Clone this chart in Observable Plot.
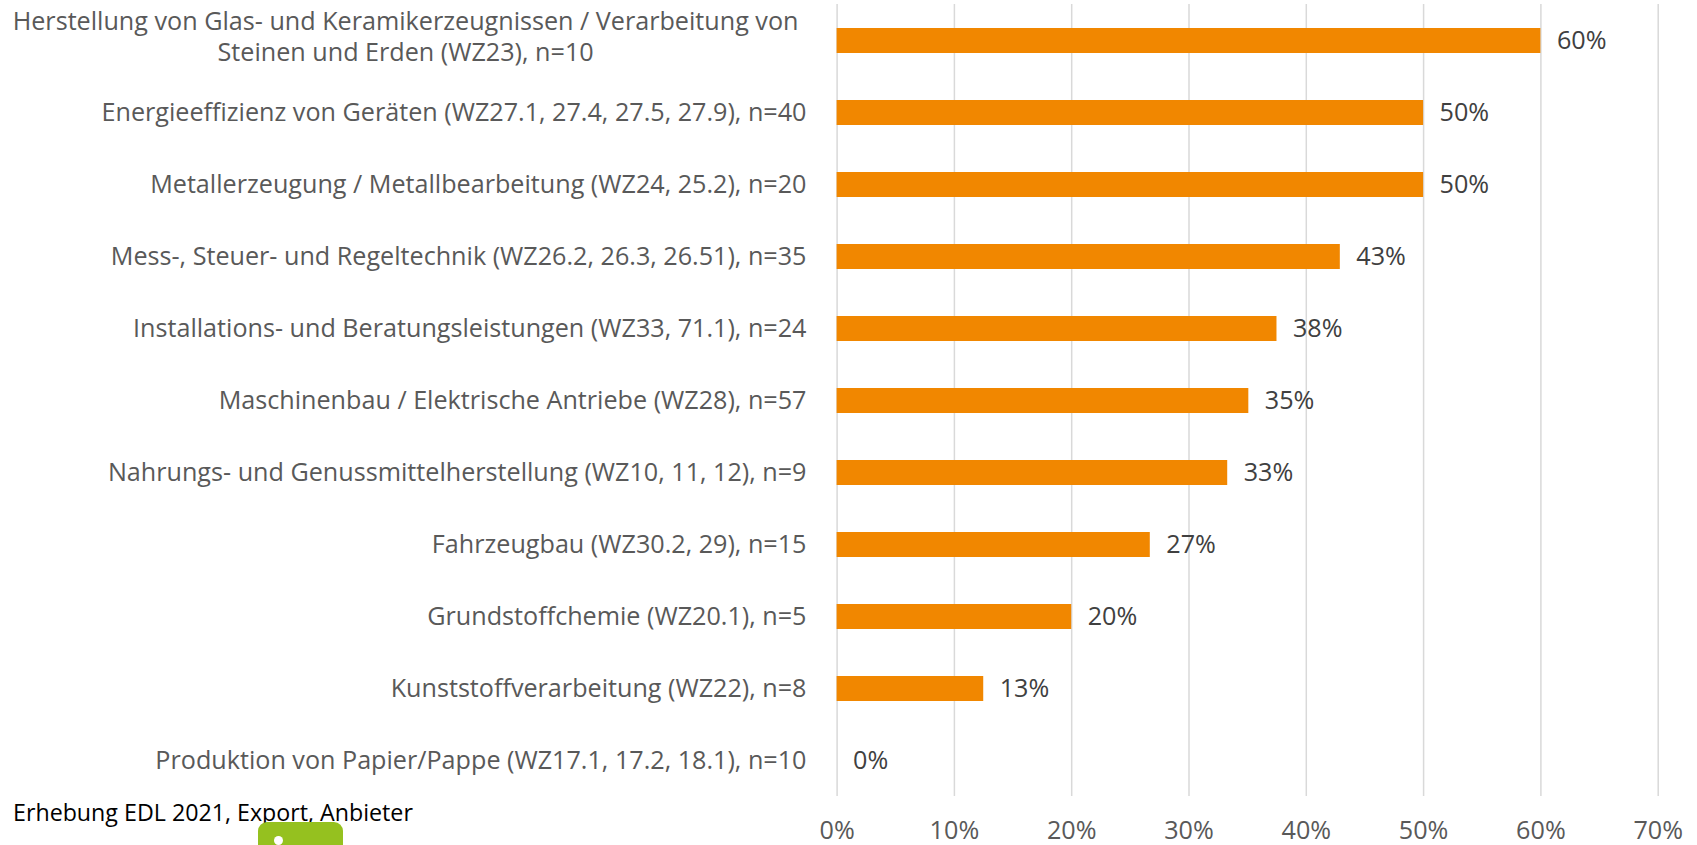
<!DOCTYPE html>
<html>
<head>
<meta charset="utf-8">
<script src="https://cdn.jsdelivr.net/npm/d3@7"></script>
<script src="https://cdn.jsdelivr.net/npm/@observablehq/plot@0.6"></script>
<style>
  html, body { margin: 0; padding: 0; background: #fff; }
  #wrap { position: relative; width: 1697px; height: 845px; overflow: hidden; }
  #wrap svg { position: absolute; left: 0; top: 0; }
  #caption { position: absolute; left: 13px; white-space: nowrap; color: #000; line-height: 1; }
  #logo { position: absolute; left: 258px; top: 821.5px; width: 85px; height: 40px; background: #95c11f; border-radius: 9px; }
  #logo::after { content: ""; position: absolute; left: 15.5px; top: 14px; width: 9px; height: 9px; border-radius: 50%; background: #fff; }
</style>
</head>
<body>
<div id="wrap"></div>
<script>
// ---- data ----
const categories = [
  "Herstellung von Glas- und Keramikerzeugnissen / Verarbeitung von\nSteinen und Erden (WZ23), n=10",
  "Energieeffizienz von Geräten (WZ27.1, 27.4, 27.5, 27.9), n=40",
  "Metallerzeugung / Metallbearbeitung (WZ24, 25.2), n=20",
  "Mess-, Steuer- und Regeltechnik (WZ26.2, 26.3, 26.51), n=35",
  "Installations- und Beratungsleistungen (WZ33, 71.1), n=24",
  "Maschinenbau / Elektrische Antriebe (WZ28), n=57",
  "Nahrungs- und Genussmittelherstellung (WZ10, 11, 12), n=9",
  "Fahrzeugbau (WZ30.2, 29), n=15",
  "Grundstoffchemie (WZ20.1), n=5",
  "Kunststoffverarbeitung (WZ22), n=8",
  "Produktion von Papier/Pappe (WZ17.1, 17.2, 18.1), n=10"
];
const values = [0.60, 0.50, 0.50, 0.429, 0.375, 0.351, 0.333, 0.267, 0.20, 0.125, 0.0];
const tickValues = [0, 0.1, 0.2, 0.3, 0.4, 0.5, 0.6, 0.7];
const captionText = "Erhebung EDL 2021, Export, Anbieter";

const data = categories.map((c, i) => ({category: c, value: values[i]}));

// ---- font sizing (substitute for Calibri) ----
const FONT = "Open Sans";
const ctx = document.createElement("canvas").getContext("2d");
function measure(text, size) { ctx.font = `${size}px "${FONT}"`; return ctx.measureText(text).width; }
const firstLines = categories[0].split("\n");
const fs = 24 * 786 / measure(firstLines[0], 24);
const capFs = 24 * 400 / measure(captionText, 24);
const w1 = measure(firstLines[0], fs);

const fmt = d3.format(".0%");
const W = 1697, H = 845;

const chart = Plot.plot({
  width: W,
  height: H,
  marginLeft: 836.6,
  marginRight: 39.3,
  marginTop: 4,
  marginBottom: 49,
  style: { fontFamily: `"${FONT}", sans-serif`, fontSize: fs + "px", color: "#595959", background: "transparent" },
  x: { domain: [0, 0.7], axis: null },
  y: { domain: categories, paddingInner: 0.653, paddingOuter: 0.3265, axis: null },
  marks: [
    Plot.gridX(tickValues, { stroke: "#d9d9d9", strokeOpacity: 1, strokeWidth: 1.5 }),
    Plot.axisX({ ticks: tickValues, tickFormat: fmt, tickSize: 0, tickPadding: 25, fill: "#595959", label: null }),
    Plot.barX(data, { x: "value", y: "category", fill: "#f18700" }),
    Plot.text(data, { x: "value", y: "category", text: d => fmt(d.value), dx: 16, textAnchor: "start", fill: "#404040" }),
    Plot.text(data.filter(d => !d.category.includes("\n")), { x: 0, y: "category", text: "category", dx: -30.6, textAnchor: "end", fill: "#595959" }),
    Plot.text(data.filter(d => d.category.includes("\n")), { x: 0, y: "category", text: "category", dx: -38.6 - w1 / 2, dy: -5, textAnchor: "middle", lineHeight: 31 / fs, fill: "#595959" })
  ]
});

const wrap = document.getElementById("wrap");
wrap.appendChild(chart);
const cap = document.createElement("div");
cap.id = "caption";
cap.textContent = captionText;
cap.style.fontFamily = `"${FONT}", sans-serif`;
cap.style.fontSize = capFs + "px";
cap.style.top = (821.7 - 0.888 * capFs) + "px";
wrap.appendChild(cap);
const logo = document.createElement("div");
logo.id = "logo";
wrap.appendChild(logo);
</script>
</body>
</html>
